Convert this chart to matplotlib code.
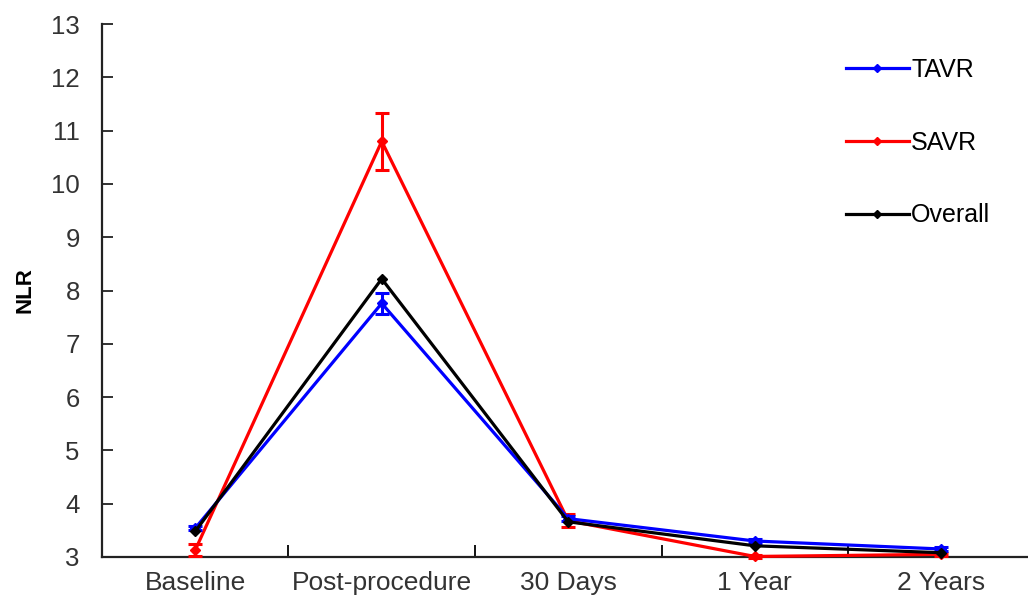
import matplotlib.pyplot as plt
import numpy as np
from matplotlib.lines import Line2D

plt.rcParams["font.family"] = ["Liberation Sans", "DejaVu Sans"]

timepoints = ["Baseline", "Post-procedure", "30 Days", "1 Year", "2 Years"]
tavr = [3.54, 7.76, 3.72, 3.30, 3.15]
tavr_err = [0.04, 0.20, 0.05, 0.04, 0.04]
savr = [3.13, 10.80, 3.68, 3.01, 3.05]
savr_err = [0.12, 0.53, 0.12, 0.03, 0.03]
overall = [3.48, 8.22, 3.66, 3.21, 3.08]

fig = plt.figure(figsize=(10.28, 6.03), dpi=100)
ax = fig.add_axes([0.0992, 0.0763, 0.9008, 0.8837])

xs = np.arange(len(timepoints))
lw = 2.3
ms = 5.5
ax.errorbar(xs, savr, yerr=savr_err, color="#ff0000", lw=lw, marker="D", ms=ms,
            capsize=5, capthick=2.2, elinewidth=2.2, zorder=3, clip_on=False)
ax.errorbar(xs, tavr, yerr=tavr_err, color="#0000ff", lw=lw, marker="D", ms=ms,
            capsize=5, capthick=2.2, elinewidth=2.2, zorder=4, clip_on=False)
ax.plot(xs, overall, color="black", lw=lw, marker="D", ms=ms, zorder=5, clip_on=False)

ax.set_xlim(-0.5, 4.465)
ax.set_ylim(3, 13)
ax.set_yticks(range(3, 14))
ax.set_xticks(xs)
ax.set_xticklabels(timepoints)
ax.set_xticks(np.arange(0.5, 4.5, 1), minor=True)
ax.tick_params(axis="x", which="major", length=0, pad=10, labelsize=19)
ax.tick_params(axis="x", which="minor", direction="in", length=9, width=1.3)
ax.tick_params(axis="y", direction="in", length=8, width=1.3, pad=16, labelsize=18.5)
ax.tick_params(axis="both", labelcolor="#333333", color="#222222")
ax.set_ylabel("NLR", fontsize=16, fontweight="bold", labelpad=11)

for side in ("top", "right"):
    ax.spines[side].set_visible(False)
for side in ("left", "bottom"):
    ax.spines[side].set_linewidth(1.6)
    ax.spines[side].set_color("#222222")

legend_handles = [
    Line2D([], [], color="#0000ff", lw=lw, marker="D", ms=4.5),
    Line2D([], [], color="#ff0000", lw=lw, marker="D", ms=4.5),
    Line2D([], [], color="black", lw=lw, marker="D", ms=4.5),
]
ax.legend(legend_handles, ["TAVR", "SAVR", "Overall"],
          loc="upper left", bbox_to_anchor=(846 / 1028, 1 - 58 / 603),
          bbox_transform=fig.transFigure, frameon=False, fontsize=18,
          handlelength=2.5, handletextpad=0.1, labelspacing=1.95,
          borderpad=0, borderaxespad=0)

fig.savefig("out.png", dpi=100)
